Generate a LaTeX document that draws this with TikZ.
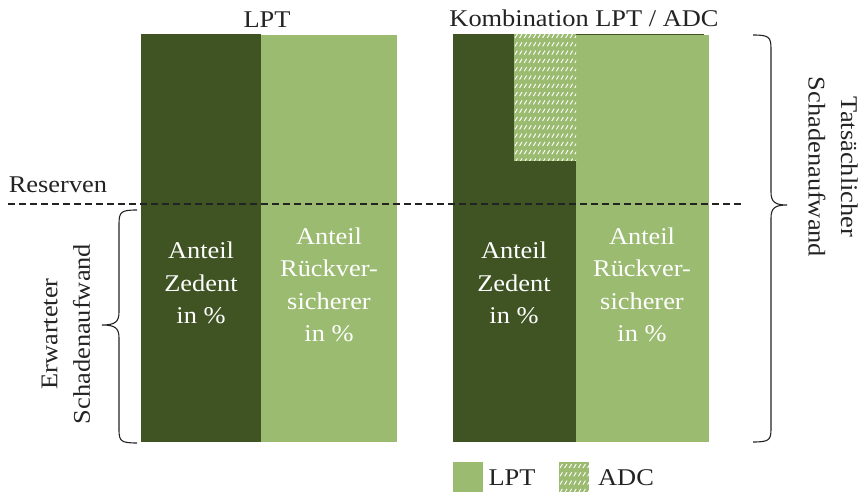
\documentclass[tikz,border=0pt]{standalone}
\usepackage{fontspec}
\setmainfont[FakeStretch=1.1]{Liberation Serif}
\definecolor{dgreen}{RGB}{63,83,35}
\definecolor{lgreen}{RGB}{155,187,113}
\definecolor{ink}{RGB}{35,35,35}
\newcommand\adchatch[5]{% x0, y0, rows, cols
  \foreach \k in {0,...,#3}{\foreach \j in {0,...,#4}{%
    \draw[white, line width=0.9pt] ({#1+4.6*\j},{#2+8.3*\k+2}) -- ++(2.4,-4);}}}
\begin{document}
\begin{tikzpicture}[x=1pt,y=-1pt,
  lbl/.style={font=\fontsize{24}{32.5}\selectfont, align=center, text=white, inner sep=0pt},
  txt/.style={font=\fontsize{24}{32.5}\selectfont, align=center, text=ink, inner sep=0pt},
  bracestyle/.style={draw=ink, line width=1.1pt}]
\useasboundingbox (0,0) rectangle (865,492);
% LPT bars
\fill[dgreen] (141,34) rectangle (261,442);
\fill[lgreen] (261,35) rectangle (397,442);
% combination bars
\fill[dgreen] (453,34) rectangle (576,442);
\fill[lgreen] (576,35) rectangle (709,442);
\draw[dgreen, line width=0.8pt] (576,34.4) -- (704,34.4);
\fill[lgreen] (514,34) rectangle (576,161);
\begin{scope}
  \clip (514,34) rectangle (576,161);
  \adchatch{515}{36}{15}{13}{}
\end{scope}
% dashed line
\draw[ink, line width=1.2pt, dash pattern=on 7pt off 4pt] (8,204) -- (741,204);
% titles
\node[txt] (t1) at (267,20) {LPT};
\node[txt] (t2) at (584,18) {Kombination LPT / ADC};
\node[txt] (res) at (58,185) {Reserven};
% bar texts
\node[lbl] (a1) at (201,283) {Anteil\\Zedent\\in \%};
\node[lbl] (b1) at (329,285) {Anteil\\Rückver-\\sicherer\\in \%};
\node[lbl] (a2) at (514,283) {Anteil\\Zedent\\in \%};
\node[lbl] (b2) at (642,285) {Anteil\\Rückver-\\sicherer\\in \%};
% braces
\draw[bracestyle] (137,210) .. controls (121,210) and (119,212) .. (119,224) -- (119,312)
  .. controls (119,322) and (115,325) .. (102,325)
  .. controls (115,325) and (119,328) .. (119,338) -- (119,430)
  .. controls (119,441) and (121,443) .. (137,443);
\node[txt, rotate=90] (el) at (66,334) {Erwarteter\\Schadenaufwand};
\draw[bracestyle] (753,35) .. controls (769,35) and (771,37) .. (771,49) -- (771,192)
  .. controls (771,202) and (775,205) .. (787,205)
  .. controls (775,205) and (771,208) .. (771,218) -- (771,429)
  .. controls (771,440) and (769,442) .. (753,442);
\node[txt, rotate=-90] (tl) at (833,167) {Tatsächlicher\\Schadenaufwand};
% legend
\fill[lgreen] (453,462) rectangle (483,492);
\node[txt] (l1) at (512,478) {LPT};
\fill[lgreen] (559,462) rectangle (589,492);
\begin{scope}
  \clip (559,462) rectangle (589,492);
  \adchatch{560}{466}{3}{6}{}
\end{scope}
\node[txt] (l2) at (626,478) {ADC};
\end{tikzpicture}
\end{document}
